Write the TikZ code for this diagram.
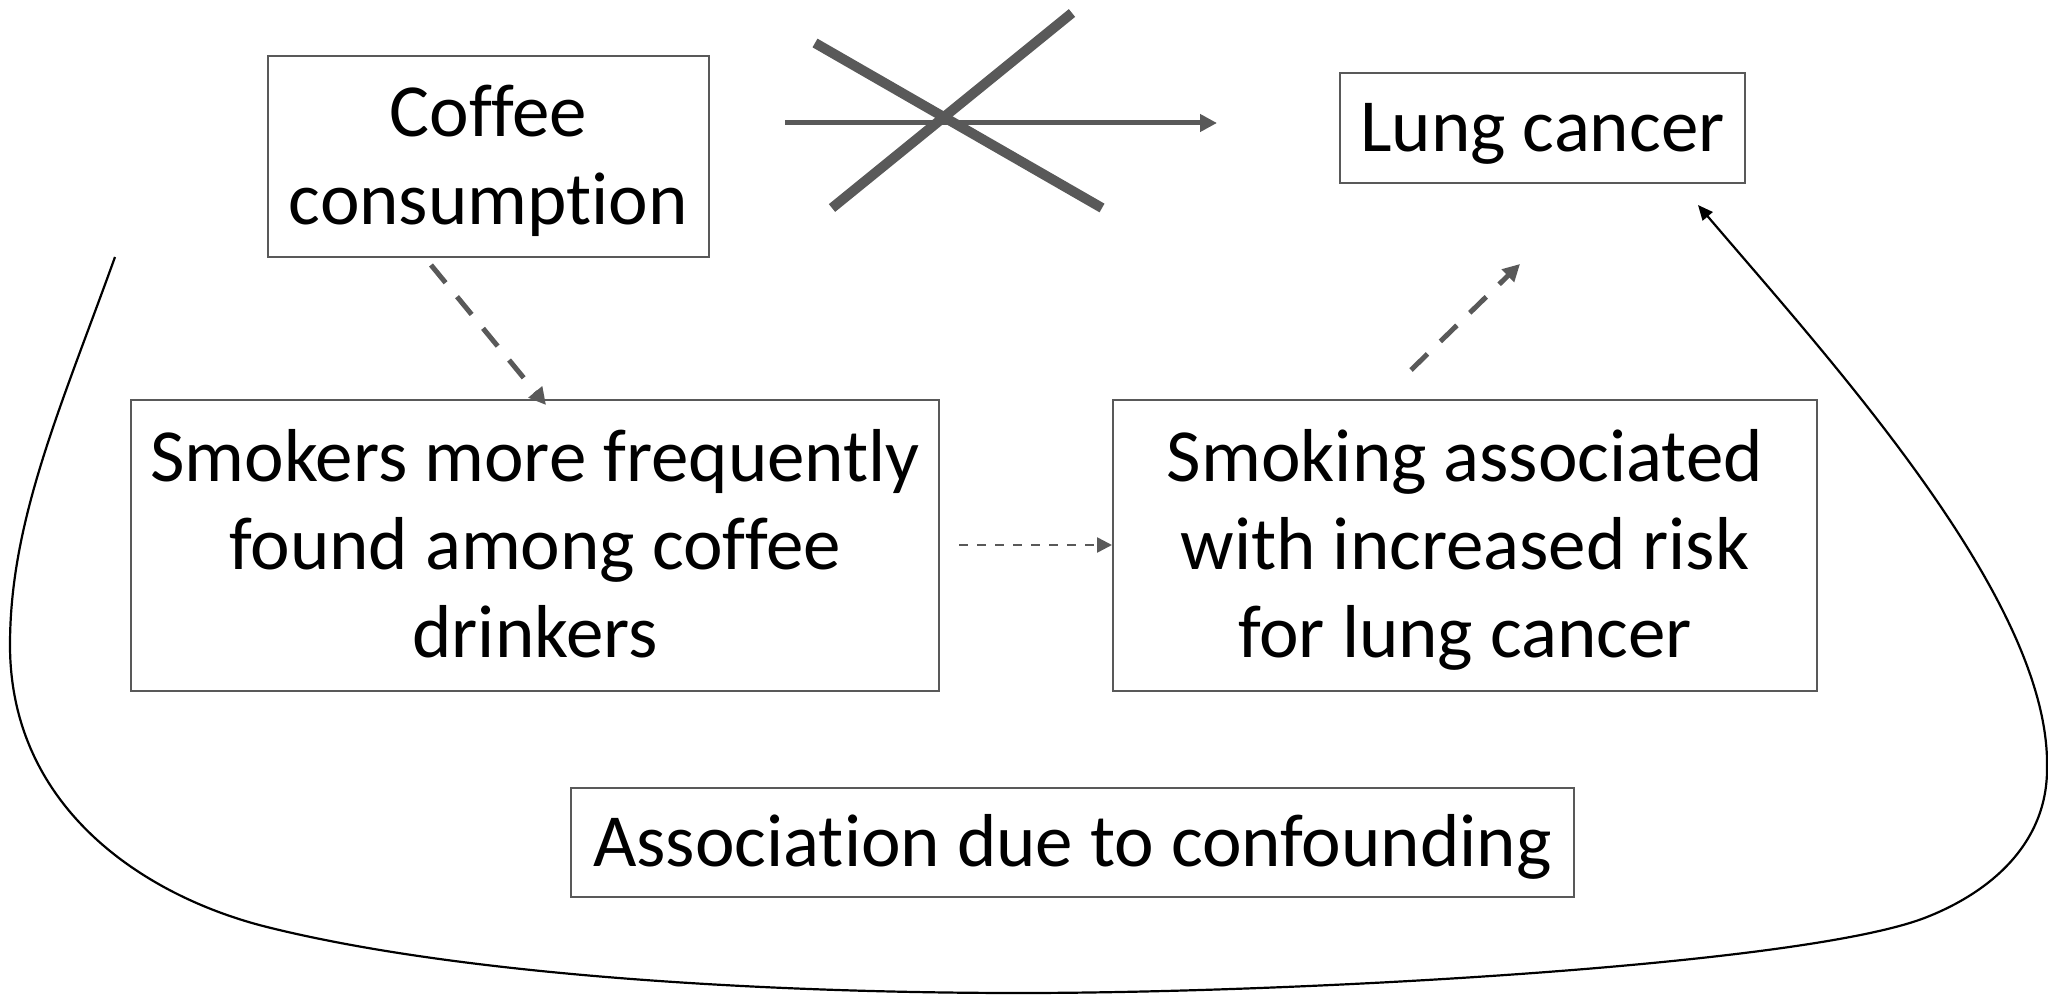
\documentclass[tikz,border=0pt]{standalone}
\usepackage{fontspec}
\setmainfont{Carlito}[Ligatures=NoCommon]
\usetikzlibrary{arrows.meta}
\definecolor{dgray}{HTML}{595959}
\newcommand\tstrut{\rule[-14pt]{0pt}{76pt}}
\begin{document}
\begin{tikzpicture}[x=1pt,y=-1pt,
  box/.style={draw=dgray,line width=2pt,rectangle,inner sep=0pt,align=center,
    font=\fontsize{75}{88}\selectfont},
  heavy/.style={draw=dgray,line width=10pt},
  mainarrow/.style={draw=dgray,line width=5pt,-{Triangle[length=17pt,width=17pt]}},
  dasharrow/.style={draw=dgray,line width=5pt,dash pattern=on 23pt off 18pt,-{Triangle[length=17pt,width=17pt]}},
  dotarrow/.style={draw=dgray,line width=2.5pt,dash pattern=on 9pt off 9pt,-{Triangle[length=15pt,width=15pt]}},
  curvearrow/.style={draw=black,line width=2.2pt,-{Triangle[length=15pt,width=13pt]}}]
\useasboundingbox (0,0) rectangle (2048,995);
\node[box,minimum width=441pt,minimum height=201pt] (coffee) at (488.5,156.5) {\tstrut Coffee\\\tstrut consumption};
\node[box,minimum width=405pt,minimum height=110pt] (lung) at (1542.5,128) {\tstrut Lung cancer};
\node[box,minimum width=808pt,minimum height=291pt] (smokers) at (535,545.5) {\tstrut Smokers more frequently\\\tstrut found among coffee\\\tstrut drinkers};
\node[box,minimum width=704pt,minimum height=291pt] (smoking) at (1465,545.5) {\tstrut Smoking associated\\\tstrut with increased risk\\\tstrut for lung cancer};
\node[box,minimum width=1003pt,minimum height=109pt] (assoc) at (1072.5,842.5) {\tstrut Association due to confounding};
% crossed arrow
\coordinate (h1) at (785,123);
\coordinate (h2) at (1217,123);
\draw[mainarrow] (h1) -- (h2);
\coordinate (x1) at (815,43);
\coordinate (x2) at (1102,208);
\coordinate (x3) at (832,208);
\coordinate (x4) at (1072,13);
\draw[heavy] (x1) -- (x2);
\draw[heavy] (x3) -- (x4);
% dashed arrows
\coordinate (d1) at (431,265);
\coordinate (d2) at (546,405);
\draw[dasharrow] (d1) -- (d2);
\coordinate (e1) at (1411,370);
\coordinate (e2) at (1520,264);
\draw[dasharrow] (e1) -- (e2);
% dotted arrow
\coordinate (f1) at (959,545);
\coordinate (f2) at (smoking.west |- f1);
\draw[dotarrow] (f1) -- (f2);
% confounding curve
\coordinate (c0) at (115,257);
\coordinate (c6) at (1698,205);
\draw[curvearrow] (c0)
  .. controls (61,407) and (10,520) .. (10,645)
  .. controls (10,810) and (147,897) .. (267,927)
  .. controls (467,977) and (780,993) .. (1020,993)
  .. controls (1300,993) and (1807,965) .. (1927,917)
  .. controls (1995,890) and (2048,840) .. (2047,767)
  .. controls (2050,600) and (1830,360) .. (c6);
\end{tikzpicture}
\end{document}
